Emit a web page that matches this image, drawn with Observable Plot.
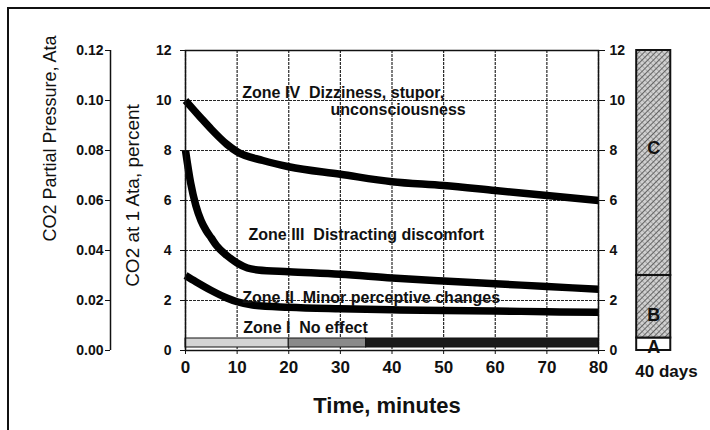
<!DOCTYPE html>
<html>
<head>
<meta charset="utf-8">
<script src="https://cdn.jsdelivr.net/npm/d3@7"></script>
<script src="https://cdn.jsdelivr.net/npm/@observablehq/plot@0.6"></script>
<style>
  html, body { margin: 0; padding: 0; background: white; }
  #wrap { position: relative; width: 710px; height: 430px; overflow: hidden; }
  #border { position: absolute; left: 7px; top: 7px; width: 800px; height: 600px;
            border-left: 2px solid #111; border-top: 2px solid #111; pointer-events: none; }
</style>
</head>
<body>
<div id="wrap"><div id="border"></div></div>
<script>
// ---- data ----
const xTicks = [0, 10, 20, 30, 40, 50, 60, 70, 80];
const yTicks = [0, 2, 4, 6, 8, 10, 12];

const zone4Time = [0, 3, 5, 8, 10, 15, 20, 30, 40, 50, 60, 70, 80];
const zone4Pct  = [10, 9.3, 8.85, 8.25, 7.95, 7.6, 7.35, 7.05, 6.75, 6.6, 6.4, 6.2, 6.0];

const zone3Time = [0, 1, 2, 3, 4, 5, 6, 8, 10, 12, 14, 20, 30, 40, 50, 60, 70, 80];
const zone3Pct  = [8, 6.7, 5.8, 5.2, 4.8, 4.5, 4.2, 3.8, 3.5, 3.3, 3.22, 3.15, 3.05, 2.9, 2.78, 2.67, 2.56, 2.45];

const zone2Time = [0, 2, 5, 8, 10, 13, 20, 30, 40, 50, 60, 70, 80];
const zone2Pct  = [3.0, 2.75, 2.4, 2.1, 1.95, 1.82, 1.73, 1.67, 1.63, 1.6, 1.58, 1.55, 1.53];

const zoneLabels = ["Zone IV  Dizziness, stupor,", "unconsciousness", "Zone III  Distracting discomfort",
                    "Zone II  Minor perceptive changes", "Zone I  No effect"];
const zoneLabelTime = [11, 28.1, 12.2, 11, 11.2];
const zoneLabelPct  = [10.32, 9.64, 4.64, 2.1, 0.92];

const bandStart = [0, 20, 35];
const bandEnd   = [20, 35, 80];
const bandShade = ["#d4d4d4", "#8a8a8a", "#1a1a1a"];
const bandLow = 0.12, bandHigh = 0.48;

const barLetters = ["A", "B", "C"];
const barLow  = [0, 0.5, 3];
const barHigh = [0.5, 3, 12];
const barLetterPct = [0.15, 1.4, 8.1];
const barCaption = "40 days";

const leftTitle = "CO2 Partial Pressure, Ata";
const innerTitle = "CO2 at 1 Ata, percent";
const xTitle = "Time, minutes";

// ---- tables built from the arrays ----
const toRows = (t, v, name) => t.map((d, i) => ({time: d, pct: v[i], name}));
const curves = [...toRows(zone4Time, zone4Pct, "IV"), ...toRows(zone3Time, zone3Pct, "III"), ...toRows(zone2Time, zone2Pct, "II")];
const labels = zoneLabels.map((s, i) => ({text: s.replace("  ", " \u00a0"), time: zoneLabelTime[i], pct: zoneLabelPct[i]}));
const band = bandStart.map((s, i) => ({x1: s, x2: bandEnd[i], fill: bandShade[i]}));
const bar = barLetters.map((l, i) => ({letter: l, lo: barLow[i], hi: barHigh[i], ly: barLetterPct[i]}));

const BAR_X1 = 87.4, BAR_X2 = 94.0, BAR_XC = (BAR_X1 + BAR_X2) / 2;
const FONT = "'Liberation Sans', Arial, Helvetica, sans-serif";

const chart = Plot.plot({
  width: 710, height: 430,
  marginLeft: 185, marginRight: 112, marginTop: 50, marginBottom: 80,
  x: {domain: [0, 80]},
  y: {domain: [0, 12]},
  style: {fontFamily: FONT, background: "transparent", color: "#111", overflow: "visible"},
  marks: [
    Plot.gridX(xTicks, {stroke: "#111", strokeOpacity: 0.9, strokeWidth: 1.2, strokeDasharray: "3,1"}),
    Plot.gridY(yTicks, {stroke: "#111", strokeOpacity: 0.9, strokeWidth: 1.2, strokeDasharray: "3,1"}),
    Plot.rect(band, {x1: "x1", x2: "x2", y1: () => bandLow, y2: () => bandHigh, fill: "fill", stroke: "#111", strokeWidth: 1}),
    Plot.line(curves, {x: "time", y: "pct", z: "name", stroke: "#000", strokeWidth: 7.5, curve: "monotone-x", strokeLinecap: "butt"}),
    Plot.text(labels, {x: "time", y: "pct", text: "text", textAnchor: "start", fontSize: 16, fontWeight: "bold", fill: "#111", letterSpacing: "0.3px"}),
    Plot.frame({stroke: "#111", strokeWidth: 1.5}),
    Plot.axisX(xTicks, {anchor: "bottom", tickSize: 4, tickPadding: 6, fontSize: 17, fontWeight: "bold"}),
    Plot.axisY(yTicks, {anchor: "left", tickSize: 5, tickPadding: 9, fontSize: 14, fontWeight: "bold", label: null}),
    Plot.axisY(yTicks, {anchor: "right", tickSize: 6, tickPadding: 5, fontSize: 14, fontWeight: "bold", label: null}),
    Plot.axisY(yTicks, {anchor: "left", dx: -75, tickSize: 5, tickPadding: 2, fontSize: 14, fontWeight: "bold", label: null,
                        tickFormat: d => (d / 100).toFixed(2)}),
    Plot.ruleX([0], {y1: 0, y2: 12, dx: -75, stroke: "#111", strokeWidth: 1.5}),
    Plot.rect(bar, {x1: () => BAR_X1, x2: () => BAR_X2, y1: "lo", y2: "hi",
                    fill: d => d.letter === "A" ? "white" : "url(#hatch)", stroke: "#111", strokeWidth: 2}),
    Plot.text(bar, {x: () => BAR_XC, y: "ly", text: "letter", fontSize: 18, fontWeight: "bold", fill: "#111"}),
    Plot.text([barCaption], {frameAnchor: "bottom-right", dx: 68, dy: 21, textAnchor: "middle", lineAnchor: "middle",
                             fontSize: 17, fontWeight: "bold", fill: "#111"}),
    Plot.text([leftTitle], {frameAnchor: "top-left", dx: -135, dy: 88, rotate: -90, textAnchor: "middle", lineAnchor: "middle",
                            fontSize: 18, fill: "#111"}),
    Plot.text([innerTitle], {frameAnchor: "top-left", dx: -53, dy: 145, rotate: -90, textAnchor: "middle", lineAnchor: "middle",
                             fontSize: 19, fill: "#111", letterSpacing: "0.6px"}),
    Plot.text([xTitle], {frameAnchor: "bottom", dx: -5, dy: 55, lineAnchor: "middle", fontSize: 22, fontWeight: "bold", fill: "#111"})
  ]
});

d3.select(chart).insert("defs", ":first-child").html(
  `<pattern id="hatch" width="4" height="4" patternUnits="userSpaceOnUse" patternTransform="rotate(45)">
     <rect width="4" height="4" fill="#d0d0d0"/>
     <line x1="0" y1="0" x2="0" y2="4" stroke="#333" stroke-width="1.4"/>
     <line x1="0" y1="0" x2="4" y2="0" stroke="#666" stroke-width="0.8"/>
   </pattern>`);
chart.style.position = "absolute";
chart.style.left = "0";
chart.style.top = "0";
document.getElementById("wrap").prepend(chart);
</script>
</body>
</html>
